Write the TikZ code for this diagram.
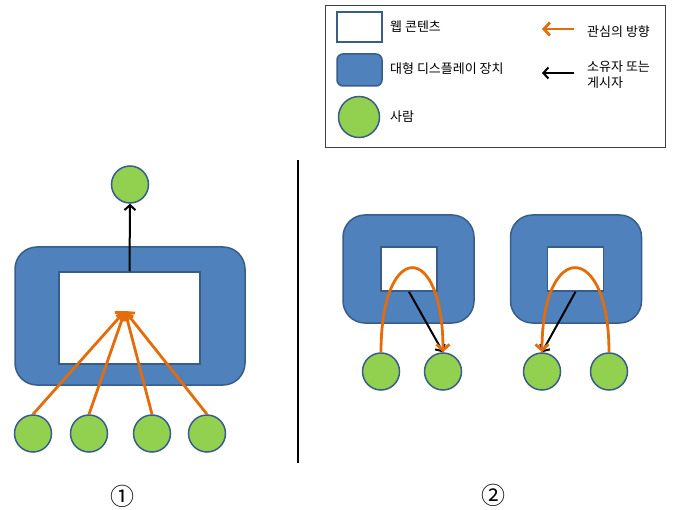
\documentclass[tikz,border=0pt]{standalone}
\usepackage{fontspec}
\newfontfamily\kr{Noto Sans CJK KR}
\usetikzlibrary{arrows.meta}

\definecolor{dispblue}{HTML}{4F81BD}
\definecolor{edgeblue}{HTML}{385D8A}
\definecolor{persongreen}{HTML}{92D050}
\definecolor{interestorange}{HTML}{E46C0A}

\tikzset{
  display/.style={draw=edgeblue, fill=dispblue, line width=1.5pt, rounded corners=22pt, inner sep=0pt},
  content/.style={draw=edgeblue, fill=white, line width=1.5pt, inner sep=0pt},
  person/.style={circle, draw=edgeblue, fill=persongreen, line width=1.5pt, minimum size=37pt, inner sep=0pt},
  interest/.style={draw=interestorange, line width=2.8pt, -{Straight Barb[length=6pt,width=13pt]}},
  owner/.style={draw=black, line width=2pt, -{Straight Barb[length=5pt,width=11pt]}},
  legendtext/.style={anchor=west, font=\kr\fontsize{13}{16}\selectfont, align=left, inner sep=0pt},
  casemark/.style={font=\kr\fontsize{24}{26}\selectfont, inner sep=0pt}
}

\begin{document}
\begin{tikzpicture}[x=1pt, y=-1pt]
  \useasboundingbox (0,0) rectangle (674,510);

  % Legend
  \node[draw=black!75, line width=0.9pt, minimum width=340pt, minimum height=142pt, inner sep=0pt] (legend) at (495,76) {};
  \node[content, minimum width=45pt, minimum height=30pt] (keycontent) at (359.5,27) {};
  \node[legendtext] (keycontenttxt) at (390,27) {웹 콘텐츠};
  \node[display, rounded corners=6pt, minimum width=45pt, minimum height=32pt] (keydisplay) at (359.5,70) {};
  \node[legendtext] (keydisplaytxt) at (390,69) {대형 디스플레이 장치};
  \node[person, minimum size=41pt] (keyperson) at (359,117) {};
  \node[legendtext] (keypersontxt) at (390,117) {사람};
  \coordinate (keyinterestA) at (574,29);
  \coordinate (keyinterestB) at (542,29);
  \draw[interest] (keyinterestA) -- (keyinterestB);
  \node[legendtext] (keyinteresttxt) at (587,32) {관심의 방향};
  \coordinate (keyownerA) at (574,73);
  \coordinate (keyownerB) at (542,73);
  \draw[owner] (keyownerA) -- (keyownerB);
  \node[legendtext] (keyownertxt) at (587,75) {소유자 또는\\게시자};

  % Case 1: one large display, many viewers
  \node[display, minimum width=230pt, minimum height=138pt] (bigdisp) at (130,316) {};
  \node[content, minimum width=141pt, minimum height=92pt] (bigcontent) at (129.5,318) {};
  \node[person] (owner) at (130,184.5) {};
  \node[person] (viewA) at (33,433.5) {};
  \node[person] (viewB) at (89,433.5) {};
  \node[person] (viewC) at (152,433.5) {};
  \node[person] (viewD) at (207,433.5) {};
  \coordinate (focus) at (125,311);
  \draw[owner] (bigcontent.north) -- (owner.south);
  \foreach \v in {viewA,viewB,viewC,viewD}
    \draw[interest] (\v.north) -- (focus);
  \node[casemark] (markA) at (122,496) {①};

  % Divider
  \coordinate (divtop) at (298,160);
  \coordinate (divbot) at (298,463);
  \draw[line width=1.8pt] (divtop) -- (divbot);

  % Case 2: small displays, one owner and one viewer each
  \node[display, minimum width=131pt, minimum height=108pt] (dispL) at (408.5,269) {};
  \node[content, minimum width=56pt, minimum height=44pt] (contL) at (409,269) {};
  \node[display, minimum width=131pt, minimum height=108pt] (dispR) at (576,269) {};
  \node[content, minimum width=56pt, minimum height=44pt] (contR) at (575.5,269) {};
  \node[person] (lookL) at (381,371.5) {};
  \node[person] (ownL) at (443,371.5) {};
  \node[person] (ownR) at (542,371.5) {};
  \node[person] (lookR) at (609,371.5) {};
  \draw[owner] (contL.south) -- (ownL.north);
  \draw[owner] (contR.south) -- (ownR.north);
  \draw[interest] (lookL.north) .. controls (381,240) and (443,240) .. (ownL.north);
  \draw[interest] (lookR.north) .. controls (609,240) and (542,240) .. (ownR.north);
  \node[casemark] (markB) at (493,495) {②};
\end{tikzpicture}
\end{document}
